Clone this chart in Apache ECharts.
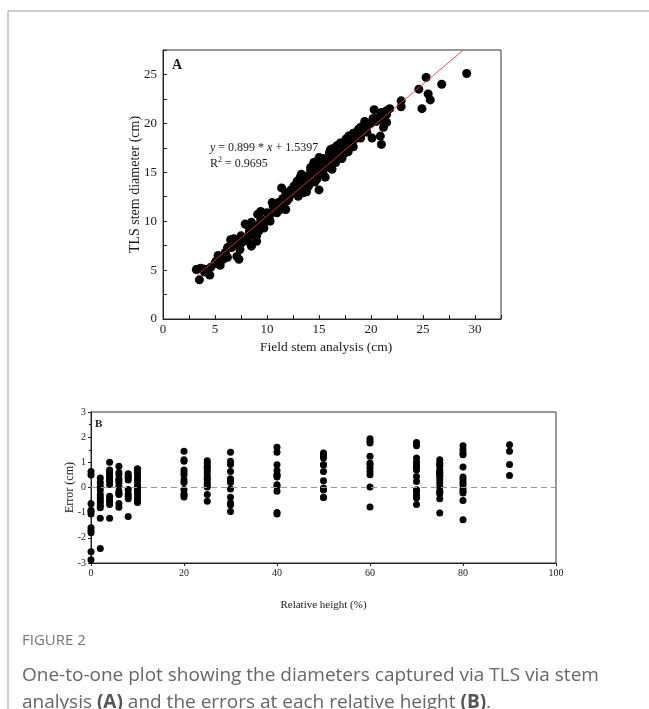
<!DOCTYPE html>
<html>
<head>
<meta charset="utf-8" />
<script src="https://cdn.jsdelivr.net/npm/echarts@6/dist/echarts.min.js"></script>
<style>
  html, body { margin: 0; padding: 0; background: #fff; }
  #main { width: 649px; height: 709px; }
</style>
</head>
<body>
<div id="main"></div>
<script>
// Panel A: field stem analysis (x) vs TLS stem diameter (y), cm
var fieldA = [3.2, 3.5, 3.7, 4.2, 4.5, 5.0, 5.3, 5.5, 5.2, 5.8, 6.2, 6.2, 6.5, 6.8, 7.0, 7.1, 7.3, 7.4, 7.6, 7.5,
  7.9, 8.2, 8.3, 8.5, 8.2, 8.5, 8.7, 9.0, 9.0, 9.2, 9.1, 9.4, 9.4, 9.7, 9.7, 10.0, 10.2, 10.3, 10.5, 10.6,
  10.95, 11.1, 11.3, 11.4, 11.5, 11.8, 11.8, 11.9, 12.1, 12.3, 12.6, 12.7, 12.9, 13.0, 13.2, 13.3, 13.4, 13.5, 13.7, 13.8,
  14.0, 14.2, 14.3, 14.2, 14.5, 14.6, 14.8, 15.0, 15.0, 15.1, 15.3, 15.5, 15.6, 15.8, 16.1, 16.25, 16.25, 16.5, 16.7, 16.9,
  17.05, 17.2, 17.4, 17.6, 17.85, 18.0, 18.3, 18.5, 18.8, 19.0, 19.1, 19.4, 19.6, 20.1, 20.3, 20.4, 20.7, 20.9, 21.0, 21.2,
  21.3, 21.5, 21.8, 21.5, 22.9, 22.9, 24.6, 24.9, 25.3, 25.5, 25.7, 26.8, 29.2,
  14.0, 14.4, 14.8, 15.2, 15.5, 15.9, 16.2, 16.4, 16.6, 16.8, 17.0, 17.1, 17.3, 17.5, 17.7, 17.9, 18.1, 18.2, 18.4, 18.6,
  18.9, 19.2, 19.3, 19.5, 19.8, 20.0, 20.2, 20.5, 20.8, 21.0, 21.2, 13.5, 13.0, 12.7, 12.4, 12.1, 11.7, 11.3, 11.0, 10.7,
  10.3, 10.0, 9.6, 9.3, 9.0, 8.8, 8.5, 8.0, 7.7, 6.9, 6.6, 6.0, 5.7, 5.1, 4.6, 4.0, 3.6, 3.9,
  13.2, 13.5, 14.2, 14.6, 15.0, 15.4, 16.0, 16.3, 16.8, 17.2, 17.4, 18.0, 18.3, 18.6, 19.0, 19.4, 20.2, 21.0, 21.5,
  13.8, 14.6, 15.4, 16.0, 16.6, 17.2, 17.8, 18.3, 19.0, 19.6];
var tlsA = [5.05, 4.0, 5.1, 5.05, 4.5, 5.7, 6.5, 5.5, 5.7, 6.1, 6.3, 7.3, 8.1, 8.2, 8.05, 6.4, 6.1, 7.1, 7.85, 8.5,
  9.7, 9.5, 8.9, 9.9, 7.95, 7.45, 9.5, 8.5, 7.95, 9.0, 10.7, 11.0, 10.2, 9.8, 9.3, 10.85, 10.3, 10.0, 11.9, 11.5,
  10.85, 11.9, 11.2, 13.4, 12.3, 11.2, 12.9, 12.05, 12.55, 13.2, 13.6, 12.9, 14.1, 12.55, 13.4, 14.8, 14.3, 12.9, 13.9, 14.6,
  13.6, 15.5, 14.8, 14.3, 16.0, 14.95, 14.3, 16.5, 13.2, 15.6, 15.1, 15.8, 14.5, 16.3, 17.3, 16.8, 15.3, 16.45, 17.7, 17.0,
  18.0, 16.5, 17.7, 18.4, 18.7, 18.0, 19.0, 18.5, 19.4, 19.6, 19.0, 20.2, 19.6, 18.5, 21.4, 20.4, 20.6, 18.7, 17.85, 19.6,
  20.9, 20.1, 21.5, 20.9, 22.3, 21.7, 23.5, 21.5, 24.7, 23.0, 22.4, 24.0, 25.1,
  14.2, 14.7, 15.3, 15.9, 15.4, 16.0, 16.6, 17.2, 16.2, 16.9, 17.4, 16.8, 17.2, 17.0, 17.8, 17.5, 18.2, 17.9, 18.4, 18.9,
  18.9, 19.3, 19.7, 19.8, 19.9, 20.0, 20.3, 20.2, 20.4, 20.6, 20.8, 13.8, 13.5, 13.3, 12.8, 12.3, 12.0, 11.6, 11.3, 11.1,
  10.7, 10.1, 9.9, 9.7, 9.3, 9.1, 8.6, 8.3, 8.0, 7.7, 7.3, 6.8, 6.3, 5.9, 5.3, 4.8, 5.2, 5.1,
  14.5, 14.6, 15.2, 15.6, 16.1, 16.4, 17.0, 17.4, 17.6, 17.9, 18.1, 18.5, 18.7, 19.1, 19.5, 19.9, 20.5, 21.1, 21.3,
  13.0, 14.0, 14.8, 15.5, 16.0, 16.4, 17.1, 17.6, 18.5, 19.1];
var fitSlope = 0.899;
var fitIntercept = 1.5397;
var fitRange = [3.3, 28.88];

// Panel B: errors (cm) at each relative height (%)
var relHeight = [0, 2, 4, 6, 8, 10, 20, 25, 30, 40, 50, 60, 70, 75, 80, 90];
var errB = [
  [0.64, 0.5, -0.65, -0.9, -0.95, -1.05, -1.6, -1.7, -1.8, -2.55, -2.87],
  [0.38, 0.2, 0.05, -0.1, -0.28, -0.4, -0.5, -0.6, -0.72, -0.8, -1.22, -2.42],
  [1.0, 0.7, 0.6, 0.58, 0.45, 0.35, 0.25, 0.12, -0.35, -0.48, -0.55, -0.68, -1.22],
  [0.84, 0.6, 0.5, 0.33, 0.3, 0.2, 0.05, -0.15, -0.25, -0.28, -0.64, -0.78],
  [0.55, 0.45, 0.4, 0.3, -0.08, -0.25, -0.35, -0.45, -1.15],
  [0.75, 0.73, 0.6, 0.47, 0.35, 0.27, 0.11, 0.0, -0.02, -0.15, -0.28, -0.42, -0.55, -0.6],
  [1.44, 1.1, 1.04, 0.7, 0.6, 0.5, 0.3, 0.2, -0.08, -0.25, -0.3, -0.38],
  [1.06, 0.97, 0.84, 0.8, 0.7, 0.58, 0.44, 0.35, 0.31, 0.18, 0.1, 0.02, -0.28, -0.55],
  [1.4, 1.04, 0.91, 0.64, 0.35, 0.31, 0.25, 0.2, -0.06, -0.39, -0.62, -0.7, -0.95],
  [1.6, 1.4, 0.9, 0.68, 0.51, 0.5, 0.42, 0.11, 0.05, -0.15, -0.99, -1.05],
  [1.37, 1.3, 1.27, 1.17, 0.9, 0.9, 0.64, 0.27, -0.02, -0.1, -0.39, -0.4],
  [1.94, 1.85, 1.77, 1.24, 0.97, 0.9, 0.78, 0.64, 0.51, 0.02, -0.77],
  [1.79, 1.66, 1.17, 1.0, 0.97, 0.84, 0.8, 0.7, 0.44, 0.24, -0.09, -0.15, -0.28, -0.35, -0.42, -0.68],
  [1.1, 0.97, 0.9, 0.84, 0.7, 0.6, 0.58, 0.5, 0.44, 0.31, 0.18, 0.02, -0.15, -0.2, -0.25, -0.45, -1.01],
  [1.66, 1.5, 1.37, 1.3, 0.81, 0.42, 0.31, 0.2, 0.11, -0.06, -0.15, -0.22, -0.52, -1.28],
  [1.7, 1.44, 0.91, 0.48]
];

var ptsA = fieldA.map(function (x, i) { return [x, tlsA[i]]; });
var fitLine = fitRange.map(function (x) { return [x, fitSlope * x + fitIntercept]; });
var ptsB = [];
relHeight.forEach(function (h, i) {
  errB[i].forEach(function (e) { ptsB.push([h, e]); });
});

var serif = '"Liberation Serif", "DejaVu Serif", serif';
var ink = '#1a1a1a';

var chart = echarts.init(document.getElementById('main'));
chart.setOption({
  animation: false,
  grid: [
    { left: 163, top: 50, width: 338, height: 269, show: true, borderColor: '#333', borderWidth: 1 },
    { left: 91, top: 412, width: 465, height: 151, show: true, borderColor: '#333', borderWidth: 1 }
  ],
  xAxis: [{
    gridIndex: 0, type: 'value', min: 0, max: 32.5, interval: 5,
    axisLine: { lineStyle: { color: '#222' } },
    axisTick: { inside: true, length: 4, lineStyle: { color: '#222' } },
    minorTick: { show: true, splitNumber: 2, length: 4, lineStyle: { color: '#222' } },
    splitLine: { show: false },
    axisLabel: { fontFamily: serif, fontSize: 13, color: ink, margin: 4,
      formatter: function (v) { return v % 5 === 0 && v <= 30 ? v : ''; } }
  }, {
    gridIndex: 1, type: 'value', min: 0, max: 100, interval: 20,
    name: 'Relative height (%)', nameLocation: 'middle', nameGap: 37,
    nameTextStyle: { fontFamily: serif, fontSize: 11, color: ink },
    axisLine: { onZero: false, lineStyle: { color: '#222' } },
    axisTick: { length: 3, lineStyle: { color: '#222' } },
    splitLine: { show: false },
    axisLabel: { fontFamily: serif, fontSize: 10, color: ink, margin: 5 }
  }],
  yAxis: [{
    gridIndex: 0, type: 'value', min: 0, max: 27.5, interval: 5,
    name: 'TLS stem diameter (cm)', nameLocation: 'middle', nameGap: 21, nameMoveOverlap: false,
    nameTextStyle: { fontFamily: serif, fontSize: 14, color: ink },
    axisLine: { lineStyle: { color: '#222' } },
    axisTick: { inside: true, length: 4, lineStyle: { color: '#222' } },
    minorTick: { show: true, splitNumber: 2, length: 4, lineStyle: { color: '#222' } },
    splitLine: { show: false },
    axisLabel: { fontFamily: serif, fontSize: 13, color: ink, margin: 6,
      formatter: function (v) { return v % 5 === 0 && v <= 25 ? v : ''; } }
  }, {
    gridIndex: 1, type: 'value', min: -3, max: 3, interval: 1,
    name: 'Error (cm)', nameLocation: 'middle', nameGap: 15, nameMoveOverlap: false,
    nameTextStyle: { fontFamily: serif, fontSize: 12, color: ink },
    axisLine: { lineStyle: { color: '#222' } },
    axisTick: { length: 3, lineStyle: { color: '#222' } },
    minorTick: { show: true, splitNumber: 2, length: 2, lineStyle: { color: '#222' } },
    splitLine: { show: false },
    axisLabel: { fontFamily: serif, fontSize: 10, color: ink, margin: 5 }
  }],
  series: [{
    type: 'scatter', xAxisIndex: 0, yAxisIndex: 0,
    symbolSize: 9, itemStyle: { color: '#000', opacity: 1 }, data: ptsA
  }, {
    type: 'line', xAxisIndex: 0, yAxisIndex: 0, symbol: 'none',
    lineStyle: { color: '#ee3333', width: 1, opacity: 0.85 }, data: fitLine, z: 3
  }, {
    type: 'scatter', xAxisIndex: 1, yAxisIndex: 1, clip: false,
    symbolSize: 7, itemStyle: { color: '#000', opacity: 1 }, data: ptsB,
    markLine: {
      silent: true, symbol: 'none', label: { show: false },
      lineStyle: { color: '#999', type: [6, 4], width: 1.2 },
      data: [{ yAxis: 0 }]
    }
  }],
  graphic: [
    { type: 'line', shape: { x1: 8, y1: 11, x2: 649, y2: 11 }, style: { stroke: '#bbb', lineWidth: 1.5 } },
    { type: 'line', shape: { x1: 8, y1: 11, x2: 8, y2: 709 }, style: { stroke: '#bbb', lineWidth: 1.5 } },
    { type: 'text', left: 172, top: 58, style: { text: 'A', font: 'bold 14px ' + serif, fill: ink } },
    { type: 'text', left: 95, top: 419, style: { text: 'B', font: 'bold 11px ' + serif, fill: ink } },
    { type: 'text', left: 210, top: 140, style: {
      text: '{i|y} = 0.899 * {i|x} + 1.5397\nR{s|2} = 0.9695',
      font: '12px ' + serif, fill: ink, lineHeight: 16,
      rich: { i: { fontStyle: 'italic', fontFamily: serif, fontSize: 12 }, s: { fontSize: 8, verticalAlign: 'top', fontFamily: serif } }
    } },
    { type: 'text', left: 260, top: 340, style: { text: 'Field stem analysis (cm)', font: '13.5px ' + serif, fill: ink } },
    { type: 'text', left: 22, top: 633, style: { text: 'FIGURE 2', font: '15px "Open Sans", sans-serif', fill: '#777' } },
    { type: 'text', left: 22, top: 662, style: {
      text: 'One-to-one plot showing the diameters captured via TLS via stem\nanalysis {b|(A)} and the errors at each relative height {b|(B)}.',
      font: '19px "Open Sans", sans-serif', fill: '#666', lineHeight: 27,
      rich: { b: { fontWeight: 'bold', fontFamily: '"Open Sans", sans-serif', fontSize: 19, fill: '#555' } }
    } }
  ]
});
</script>
</body>
</html>
